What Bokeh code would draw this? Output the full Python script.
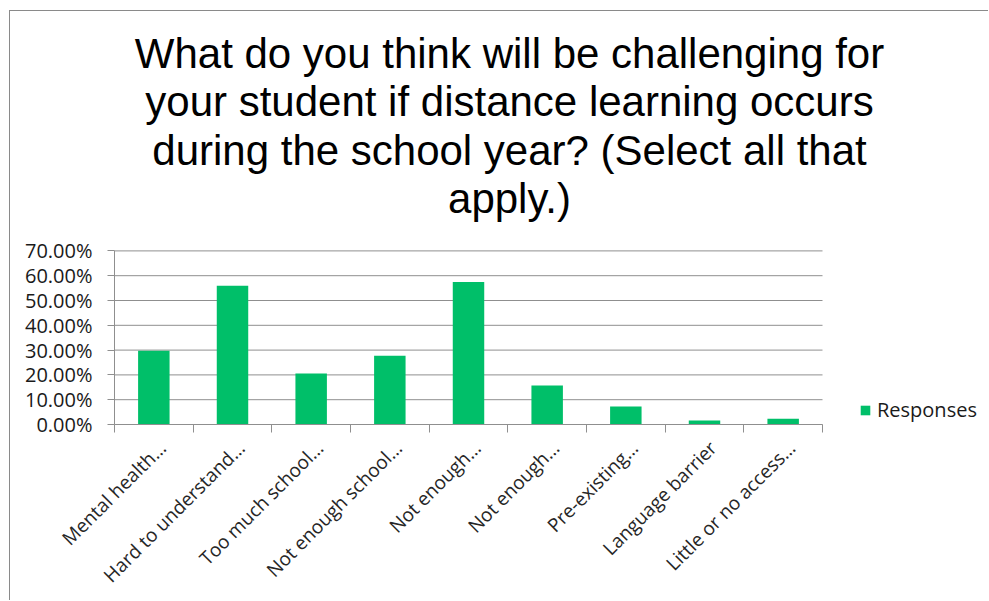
from bokeh.plotting import figure
from bokeh.models import (FixedTicker, NumeralTickFormatter, Label, Legend, LegendItem,
                          ColumnDataSource, Range1d)
from bokeh.embed import file_html
from bokeh.resources import INLINE
import math

# ---- data ----
categories = ["Mental health…", "Hard to understand…", "Too much school…",
              "Not enough school…", "Not enough…", "Not enough…",
              "Pre-existing…", "Language barrier", "Little or no access…"]
responses = [0.297, 0.559, 0.206, 0.277, 0.575, 0.157, 0.073, 0.016, 0.023]
y_ticks = [0.0, 0.1, 0.2, 0.3, 0.4, 0.5, 0.6, 0.7]
title_lines = ["What do you think will be challenging for",
               "your student if distance learning occurs",
               "during the school year? (Select all that",
               "apply.)"]
series_name = "Responses"

GREEN = "#00BF69"
GRID = "#8f8f8f"

n = len(categories)
W, H = 979, 590
LEFT, BOTTOM = 104, 177
PLOT_W, PLOT_H = 708.0, 173.6          # size of the bar area in px
frame_w, frame_h = W - LEFT, H - BOTTOM
y_max = y_ticks[-1]

positions = list(range(1, n + 1))
src = ColumnDataSource(dict(x=positions, top=responses))

p = figure(width=W, height=H, output_backend="svg", toolbar_location=None,
           x_range=Range1d(0.5, 0.5 + n * frame_w / PLOT_W),
           y_range=Range1d(0, y_max * frame_h / PLOT_H),
           min_border_left=LEFT, min_border_right=0, min_border_top=0,
           min_border_bottom=BOTTOM)
p.outline_line_color = None
p.styles = {"margin-left": "9px", "margin-top": "10px",
            "border-left": "1px solid #8a8a8a", "border-top": "1px solid #8a8a8a"}

# horizontal gridlines across the bar area only
p.ygrid.grid_line_color = None
p.xgrid.grid_line_color = None
p.segment(x0=[0.5] * len(y_ticks), x1=[n + 0.5] * len(y_ticks), y0=y_ticks, y1=y_ticks,
          line_color=GRID, line_width=1)

r = p.vbar(x="x", top="top", width=0.4, source=src, fill_color=GREEN, line_color=None)

# x axis: labels near category centres, tick marks between categories
label_shift = 0.11
p.xaxis.bounds = (0.5, n + 0.5)
p.xaxis.ticker = FixedTicker(ticks=[x + label_shift for x in positions],
                             minor_ticks=[x - 0.5 for x in positions] + [n + 0.5])
p.xaxis.major_label_overrides = {x + label_shift: c for x, c in zip(positions, categories)}
p.xaxis.major_tick_out = 0
p.xaxis.major_tick_in = 0
p.xaxis.minor_tick_out = 8
p.xaxis.minor_tick_in = 0
p.xaxis.minor_tick_line_color = GRID
p.xaxis.axis_line_color = GRID
p.xaxis.major_label_orientation = math.pi / 4
p.xaxis.major_label_text_font = "Open Sans"
p.xaxis.major_label_text_font_size = "19px"
p.xaxis.major_label_text_color = "#262626"
p.xaxis.major_label_standoff = 12

# y axis
p.yaxis.bounds = (0, y_max)
p.yaxis.ticker = FixedTicker(ticks=y_ticks)
p.yaxis.formatter = NumeralTickFormatter(format="0.00%")
p.yaxis.major_tick_out = 7
p.yaxis.major_tick_in = 0
p.yaxis.minor_tick_line_color = None
p.yaxis.major_tick_line_color = GRID
p.yaxis.axis_line_color = GRID
p.yaxis.major_label_text_font = "Open Sans"
p.yaxis.major_label_text_font_size = "20px"
p.yaxis.major_label_text_color = "#1a1a1a"
p.yaxis.major_label_standoff = 15

# title lines
for i, line in enumerate(title_lines):
    p.add_layout(Label(x=395, y=371.5 - 48.5 * i, x_units="screen", y_units="screen",
                       text=line, text_align="center", text_baseline="alphabetic",
                       text_font="Liberation Sans", text_font_size="42px",
                       text_color="#000000"))

legend = Legend(items=[LegendItem(label=series_name, renderers=[r])],
                location=(745, 1), orientation="vertical",
                glyph_width=12, glyph_height=12, label_standoff=6, label_height=12,
                padding=0, margin=0, spacing=0, border_line_color=None,
                background_fill_alpha=0, label_text_font="Open Sans",
                label_text_font_size="20px", label_text_line_height=0.8,
                label_text_color="#1a1a1a")
p.add_layout(legend)

open("out.html", "w").write(file_html(p, INLINE))
